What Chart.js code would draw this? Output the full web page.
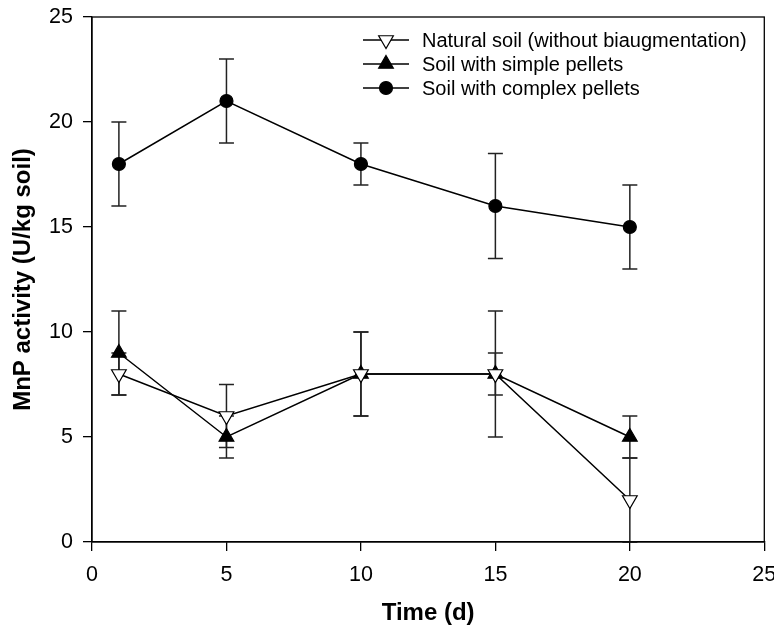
<!DOCTYPE html>
<html>
<head>
<meta charset="utf-8">
<script src="https://cdn.jsdelivr.net/npm/chart.js@4.4.1/dist/chart.umd.min.js"></script>
<style>
html,body{margin:0;padding:0;background:#fff;}
#wrap{width:774px;height:629px;}
</style>
</head>
<body>
<div id="wrap"><canvas id="c" width="774" height="629"></canvas></div>
<script>
const days = [1, 5, 10, 15, 20];
const seriesNames = ["Natural soil (without biaugmentation)", "Soil with simple pellets", "Soil with complex pellets"];
const naturalVals = [8, 6, 8, 8, 2];
const naturalErr = [1, 1.5, 2, 3, 2];
const simpleVals = [9, 5, 8, 8, 5];
const simpleErr = [2, 1, 2, 1, 1];
const complexVals = [18, 21, 18, 16, 15];
const complexErr = [2, 2, 1, 2.5, 2];
const axisTicks = [0, 5, 10, 15, 20, 25];

const FONT = "'Liberation Sans', Arial, Helvetica, sans-serif";

function pts(vals, errs) {
  return days.map((d, i) => ({x: d, y: vals[i], e: errs[i]}));
}

const styles = [
  {pointStyle: 'triangle', rotation: 180, bg: '#ffffff', r: 8.5},
  {pointStyle: 'triangle', rotation: 0, bg: '#000000', r: 8.5},
  {pointStyle: 'circle', rotation: 0, bg: '#000000', r: 6.5}
];
const allVals = [[naturalVals, naturalErr], [simpleVals, simpleErr], [complexVals, complexErr]];

const datasets = allVals.map((ve, k) => ({
  label: seriesNames[k],
  data: pts(ve[0], ve[1]),
  showLine: true,
  borderColor: '#000',
  borderWidth: 1.5,
  pointStyle: styles[k].pointStyle,
  pointRotation: styles[k].rotation,
  pointRadius: styles[k].r,
  pointBackgroundColor: styles[k].bg,
  pointBorderColor: '#000',
  pointBorderWidth: 1.2,
  fill: false,
  tension: 0
}));

const errorBars = {
  id: 'errorBars',
  beforeDatasetsDraw(chart) {
    const ctx = chart.ctx;
    const xs = chart.scales.x, ys = chart.scales.y;
    ctx.save();
    ctx.strokeStyle = '#222';
    ctx.lineWidth = 1.5;
    chart.data.datasets.forEach(ds => {
      ds.data.forEach(p => {
        const px = xs.getPixelForValue(p.x);
        const top = ys.getPixelForValue(p.y + p.e);
        const bot = ys.getPixelForValue(p.y - p.e);
        const hw = 7.5;
        ctx.beginPath();
        ctx.moveTo(px, top); ctx.lineTo(px, bot);
        ctx.moveTo(px - hw, top); ctx.lineTo(px + hw, top);
        ctx.moveTo(px - hw, bot); ctx.lineTo(px + hw, bot);
        ctx.stroke();
      });
    });
    ctx.restore();
  }
};

const frameAndLegend = {
  id: 'frameAndLegend',
  afterDraw(chart) {
    const ctx = chart.ctx;
    const a = chart.chartArea;
    ctx.save();
    ctx.strokeStyle = '#000';
    ctx.lineWidth = 1.3;
    ctx.strokeRect(a.left, a.top, a.right - a.left, a.bottom - a.top);
    // legend
    const rows = [40, 64, 88];
    const x0 = 363, x1 = 409, mx = 386, tx = 422;
    ctx.font = '20px ' + FONT;
    ctx.fillStyle = '#000';
    ctx.textBaseline = 'middle';
    chart.data.datasets.forEach((ds, i) => {
      const y = rows[i];
      ctx.lineWidth = 1.5;
      ctx.strokeStyle = '#000';
      ctx.beginPath(); ctx.moveTo(x0, y); ctx.lineTo(x1, y); ctx.stroke();
      ctx.fillStyle = ds.pointBackgroundColor;
      ctx.lineWidth = 1.2;
      Chart.helpers.drawPoint(ctx, {pointStyle: ds.pointStyle, rotation: ds.pointRotation, radius: ds.pointRadius, borderWidth: 1.2}, mx, y);
      ctx.fillStyle = '#000';
      ctx.fillText(ds.label, tx, y + 1);
    });
    ctx.restore();
  }
};

new Chart(document.getElementById('c'), {
  type: 'scatter',
  data: {datasets},
  plugins: [errorBars, frameAndLegend],
  options: {
    responsive: false,
    animation: false,
    layout: {padding: {top: 17, right: 8, left: 0, bottom: 0}},
    plugins: {legend: {display: false}, tooltip: {enabled: false}},
    scales: {
      x: {
        type: 'linear', min: 0, max: 25,
        afterBuildTicks: s => { s.ticks = axisTicks.map(v => ({value: v})); },
        afterFit: s => { s.height = 87; s.paddingLeft = 0; s.paddingRight = 0; },
        grid: {display: true, drawOnChartArea: false, drawTicks: true, tickLength: 9, color: '#000', lineWidth: 1.3},
        border: {display: true, color: '#000', width: 1.3},
        ticks: {color: '#000', font: {family: FONT, size: 21.5}, padding: 11, maxRotation: 0},
        title: {display: true, text: 'Time (d)', color: '#000', font: {family: FONT, size: 24, weight: 'bold'}, padding: {top: 0, bottom: 1}}
      },
      y: {
        type: 'linear', min: 0, max: 25,
        afterBuildTicks: s => { s.ticks = axisTicks.map(v => ({value: v})); },
        afterFit: s => { s.width = 92; s.paddingTop = 0; s.paddingBottom = 0; },
        grid: {display: true, drawOnChartArea: false, drawTicks: true, tickLength: 9, color: '#000', lineWidth: 1.3},
        border: {display: true, color: '#000', width: 1.3},
        ticks: {color: '#000', font: {family: FONT, size: 21.5}, padding: 10},
        title: {display: true, text: 'MnP activity (U/kg soil)', color: '#000', font: {family: FONT, size: 24, weight: 'bold'}, padding: {top: 9, bottom: 0}}
      }
    }
  }
});
</script>
</body>
</html>
